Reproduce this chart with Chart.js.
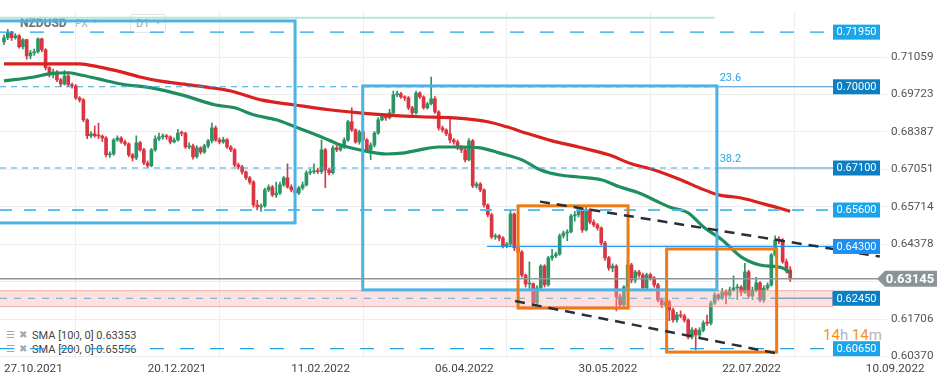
<!DOCTYPE html>
<html><head><meta charset="utf-8">
<script src="https://cdn.jsdelivr.net/npm/chart.js@4/dist/chart.umd.min.js"></script>
<style>
html,body{margin:0;padding:0;background:#fff;}
#wrap{position:relative;width:949px;height:381px;overflow:hidden;font-family:Roboto,"Noto Sans",sans-serif;}
#c{position:absolute;left:0;top:0;z-index:2;}
.t{position:absolute;z-index:1;white-space:nowrap;line-height:1;}
</style></head><body>
<div id="wrap">
  <div class="t" style="left:20px;top:17px;font-size:12px;font-weight:bold;color:#6b7176;">NZDUSD</div>
  <div class="t" style="left:75px;top:18px;font-size:11px;color:#b3b8bc;">FX</div>
  <div class="t" style="left:91px;top:18px;font-size:8px;color:#d0d4d7;">▼</div>
  <div class="t" style="left:130px;top:14px;width:34px;height:17px;border:1px solid #e4e6e8;border-radius:3px;"></div>
  <div class="t" style="left:136px;top:18px;font-size:11px;color:#9aa0a5;">D1</div>
  <div class="t" style="left:154px;top:19px;font-size:8px;color:#c5c9cc;">▼</div>
  <div class="t" style="left:6px;top:330px;font-size:10px;color:#a4a8ab;">☰</div>
  <div class="t" style="left:19px;top:330px;font-size:10px;color:#a4a8ab;">✖</div>
  <div class="t" style="left:32px;top:330px;font-size:11px;color:#444;">SMA [100, 0] 0.63353</div>
  <div class="t" style="left:6px;top:344px;font-size:10px;color:#a4a8ab;">☰</div>
  <div class="t" style="left:19px;top:344px;font-size:10px;color:#a4a8ab;">✖</div>
  <div class="t" style="left:32px;top:344px;font-size:11px;color:#444;">SMA [200, 0] 0.65556</div>
  <div class="t" style="left:823px;top:328px;font-size:15px;"><span style="color:#f5911e">14</span><span style="color:#b0b5b9">h </span><span style="color:#f5911e">14</span><span style="color:#b0b5b9">m</span></div>
  <canvas id="c" width="949" height="381"></canvas>
</div>
<script>
// ---- data ----
const dateLabels = ['27.10.2021','20.12.2021','11.02.2022','06.04.2022','30.05.2022','22.07.2022','10.09.2022'];
const dateTickIdx = [0, 38, 76, 114, 152, 190, 228];
const priceTicks = [0.60370,0.61706,0.63042,0.64378,0.65714,0.67051,0.68387,0.69723,0.71059];

const firstOpen = 0.7160;
const closes = [
0.7175,0.7193,0.7175,0.7182,0.7143,0.7168,0.7110,0.7121,0.7125,0.7171,
0.7132,0.7068,0.7043,0.7053,0.7025,0.7010,0.7039,0.7007,0.7003,0.6960,
0.6953,0.6882,0.6825,0.6832,0.6825,0.6824,0.6817,0.6757,0.6760,0.6810,
0.6817,0.6803,0.6796,0.6757,0.6746,0.6800,0.6775,0.6728,0.6718,0.6775,
0.6814,0.6821,0.6825,0.6821,0.6803,0.6810,0.6835,0.6834,0.6785,0.6789,
0.6750,0.6782,0.6767,0.6789,0.6807,0.6853,0.6810,0.6803,0.6811,0.6785,
0.6775,0.6721,0.6714,0.6696,0.6675,0.6660,0.6578,0.6571,0.6575,0.6632,
0.6642,0.6614,0.6621,0.6650,0.6675,0.6642,0.6632,0.6621,0.6639,0.6650,
0.6693,0.6696,0.6700,0.6697,0.6775,0.6703,0.6693,0.6782,0.6775,0.6785,
0.6810,0.6875,0.6846,0.6803,0.6839,0.6810,0.6775,0.6792,0.6835,0.6882,
0.6896,0.6889,0.6907,0.6971,0.6975,0.6964,0.6960,0.6925,0.6907,0.6978,
0.6964,0.6925,0.6939,0.6957,0.6910,0.6853,0.6846,0.6832,0.6810,0.6803,
0.6782,0.6775,0.6739,0.6807,0.6646,0.6653,0.6632,0.6578,0.6543,0.6464,
0.6468,0.6460,0.6432,0.6439,0.6546,0.6425,0.6410,0.6328,0.6296,0.6297,
0.6228,0.6282,0.6360,0.6293,0.6389,0.6396,0.6403,0.6468,0.6478,0.6482,
0.6539,0.6543,0.6560,0.6489,0.6561,0.6517,0.6507,0.6496,0.6442,0.6389,
0.6353,0.6360,0.6250,0.6221,0.6285,0.6364,0.6310,0.6339,0.6328,0.6282,
0.6329,0.6318,0.6293,0.6239,0.6221,0.6232,0.6203,0.6168,0.6186,0.6182,
0.6167,0.6107,0.6132,0.6114,0.6131,0.6157,0.6156,0.6228,0.6257,0.6246,
0.6268,0.6256,0.6275,0.6282,0.6285,0.6267,0.6339,0.6253,0.6274,0.6300,
0.6239,0.6281,0.6292,0.6400,0.6453,0.6450,0.6375,0.6346,0.63145];
const highs = [
0.7185,0.7205,0.7198,0.7190,0.7186,0.7172,0.7170,0.7130,0.7135,0.7175,
0.7174,0.7136,0.7072,0.7063,0.7058,0.7030,0.7058,0.7044,0.7013,0.7008,
0.6965,0.6958,0.6886,0.6840,0.6860,0.6870,0.6828,0.6822,0.6768,0.6815,
0.6825,0.6822,0.6810,0.6800,0.6762,0.6825,0.6805,0.6780,0.6735,0.6780,
0.6825,0.6835,0.6832,0.6830,0.6825,0.6818,0.6848,0.6842,0.6838,0.6800,
0.6795,0.6790,0.6786,0.6795,0.6812,0.6870,0.6860,0.6818,0.6820,0.6815,
0.6790,0.6780,0.6728,0.6720,0.6700,0.6680,0.6665,0.6595,0.6582,0.6638,
0.6650,0.6648,0.6660,0.6660,0.6680,0.6725,0.6650,0.6640,0.6645,0.6660,
0.6700,0.6705,0.6725,0.6710,0.6810,0.6780,0.6710,0.6790,0.6790,0.6795,
0.6818,0.6880,0.6925,0.6850,0.6845,0.6875,0.6815,0.6800,0.6840,0.6890,
0.6905,0.6900,0.6920,0.6985,0.6985,0.6980,0.6968,0.6965,0.6930,0.6985,
0.6982,0.6968,0.6945,0.7035,0.6965,0.6915,0.6860,0.6850,0.6890,0.6815,
0.6810,0.6790,0.6780,0.6815,0.6812,0.6660,0.6658,0.6636,0.6582,0.6548,
0.6475,0.6472,0.6465,0.6445,0.6560,0.6550,0.6430,0.6415,0.6332,0.6375,
0.6300,0.6290,0.6365,0.6365,0.6395,0.6420,0.6410,0.6475,0.6485,0.6490,
0.6545,0.6555,0.6575,0.6565,0.6570,0.6565,0.6525,0.6512,0.6500,0.6448,
0.6395,0.6368,0.6365,0.6260,0.6290,0.6385,0.6370,0.6345,0.6345,0.6335,
0.6335,0.6335,0.6322,0.6298,0.6245,0.6240,0.6238,0.6210,0.6195,0.6200,
0.6188,0.6172,0.6140,0.6138,0.6140,0.6165,0.6185,0.6235,0.6265,0.6262,
0.6280,0.6275,0.6285,0.6325,0.6295,0.6290,0.6370,0.6345,0.6285,0.6320,
0.6305,0.6290,0.6300,0.6405,0.6468,0.6465,0.6458,0.6385,0.6358];
const lows = [
0.7150,0.7168,0.7165,0.7170,0.7138,0.7135,0.7098,0.7100,0.7112,0.7120,
0.7125,0.7060,0.7035,0.7032,0.7018,0.7000,0.7006,0.7000,0.6995,0.6955,
0.6945,0.6875,0.6815,0.6818,0.6820,0.6815,0.6805,0.6750,0.6748,0.6755,
0.6805,0.6798,0.6790,0.6750,0.6735,0.6740,0.6770,0.6722,0.6712,0.6714,
0.6770,0.6808,0.6812,0.6812,0.6796,0.6800,0.6806,0.6825,0.6780,0.6778,
0.6742,0.6745,0.6760,0.6762,0.6782,0.6800,0.6805,0.6796,0.6798,0.6780,
0.6768,0.6715,0.6706,0.6688,0.6668,0.6652,0.6570,0.6560,0.6555,0.6570,
0.6625,0.6608,0.6605,0.6615,0.6645,0.6638,0.6625,0.6595,0.6615,0.6632,
0.6645,0.6686,0.6690,0.6690,0.6690,0.6640,0.6685,0.6688,0.6768,0.6770,
0.6780,0.6805,0.6840,0.6798,0.6795,0.6805,0.6765,0.6740,0.6785,0.6830,
0.6878,0.6880,0.6885,0.6900,0.6965,0.6958,0.6950,0.6918,0.6900,0.6902,
0.6958,0.6920,0.6920,0.6935,0.6905,0.6845,0.6838,0.6825,0.6800,0.6795,
0.6775,0.6765,0.6732,0.6735,0.6640,0.6638,0.6625,0.6570,0.6535,0.6458,
0.6455,0.6450,0.6425,0.6425,0.6430,0.6415,0.6400,0.6320,0.6285,0.6280,
0.6215,0.6220,0.6275,0.6285,0.6288,0.6380,0.6390,0.6398,0.6460,0.6450,
0.6478,0.6520,0.6535,0.6480,0.6485,0.6510,0.6500,0.6488,0.6435,0.6380,
0.6345,0.6340,0.6200,0.6210,0.6215,0.6280,0.6300,0.6300,0.6320,0.6275,
0.6278,0.6310,0.6285,0.6232,0.6212,0.6215,0.6165,0.6160,0.6160,0.6175,
0.6160,0.6100,0.6100,0.6061,0.6105,0.6125,0.6148,0.6150,0.6222,0.6238,
0.6240,0.6225,0.6250,0.6270,0.6240,0.6255,0.6262,0.6245,0.6240,0.6268,
0.6232,0.6230,0.6275,0.6288,0.6395,0.6440,0.6370,0.6335,0.6305];

const sma100Idx = [0,8,12,17,20,25,31,39,47,56,61,66,72,77,84,89,94,101,106,110,115,121,126,131,137,142,147,152,158,163,168,172,176,181,185,190,195,200,206,208];
const sma100Val = [0.7021,0.7035,0.7046,0.7050,0.7043,0.7028,0.7010,0.6996,0.6971,0.6935,0.6925,0.6900,0.6882,0.6857,0.6821,0.6792,0.6775,0.6760,0.6764,0.6775,0.6785,0.6785,0.6782,0.6764,0.6739,0.6703,0.6685,0.6678,0.6668,0.6642,0.6621,0.6596,0.6571,0.6550,0.6500,0.6453,0.6393,0.6364,0.6353,0.63353];
const sma200Idx = [0,20,25,31,36,41,49,60,68,77,86,94,101,110,119,128,133,138,145,152,160,166,172,179,184,189,195,201,208];
const sma200Val = [0.7082,0.7082,0.7071,0.7053,0.7035,0.7021,0.7007,0.6985,0.6953,0.6935,0.6918,0.6907,0.6900,0.6893,0.6889,0.6875,0.6857,0.6835,0.6807,0.6785,0.6757,0.6725,0.6703,0.6668,0.6639,0.6614,0.6603,0.6582,0.65556];

const levelPrices = [0.71950, 0.70000, 0.67100, 0.65600, 0.64300, 0.62450, 0.60650];
const currentPrice = 0.63145;
const zoneRange = [0.6272, 0.6215];
const fibTop = 0.7246;
const fibTexts = ['23.6', '38.2'];
const fibPrices = [0.70000, 0.67100];
// drawn rectangles: [startIdx, endIdx, topPrice, bottomPrice]
const blueBoxes = [[-3, 77, 0.7235, 0.6514], [94.9, 188.6, 0.7003, 0.6275]];
const orangeBoxes = [[136.0, 165.1, 0.6575, 0.6210], [175.3, 204.4, 0.6421, 0.6053]];
// trend lines: [idx1, price1, idx2, price2]
const trendLines = [[141.8, 0.6590, 231.7, 0.6394], [135.2, 0.6235, 205.3, 0.6046]];

// ---- build ----
const opens = [firstOpen].concat(closes.slice(0, -1));
const GREEN = '#2b9566', RED = '#da3541';
const bodyData = closes.map((c, i) => ({x: i, y: [opens[i], c]}));
const wickData = closes.map((c, i) => ({x: i, y: [lows[i], highs[i]]}));
const cols = closes.map((c, i) => c >= opens[i] ? GREEN : RED);
const sma100 = sma100Idx.map((x, k) => ({x, y: sma100Val[k]}));
const sma200 = sma200Idx.map((x, k) => ({x, y: sma200Val[k]}));

function seg(ctx, x1, y1, x2, y2, color, lw, dash) {
  ctx.save(); ctx.strokeStyle = color; ctx.lineWidth = lw; ctx.setLineDash(dash || []);
  ctx.beginPath(); ctx.moveTo(x1, y1); ctx.lineTo(x2, y2); ctx.stroke(); ctx.restore();
}

const marks = {
  id: 'marks',
  afterDatasetsDraw(chart) {
    const {ctx, chartArea: ca, scales: {x, y}} = chart;
    const X = v => x.getPixelForValue(v), Y = v => y.getPixelForValue(v);
    const labL = ca.right - 54, labW = 47;
    ctx.save();
    ctx.beginPath(); ctx.rect(ca.left, ca.top, ca.right - ca.left, ca.bottom - ca.top); ctx.clip();
    // fib top line
    seg(ctx, ca.left, Y(fibTop), X(188), Y(fibTop), '#b9e5d8', 2);
    // zone
    const zt = Y(zoneRange[0]), zb = Y(zoneRange[1]);
    ctx.fillStyle = 'rgba(247,180,180,0.40)';
    ctx.fillRect(ca.left, zt, labL - ca.left, zb - zt);
    seg(ctx, ca.left, zt, labL, zt, 'rgba(236,140,140,0.7)', 1);
    seg(ctx, ca.left, zb, labL, zb, 'rgba(236,140,140,0.7)', 1);
    // levels
    const L = levelPrices.map(Y);
    seg(ctx, ca.left, L[0], labL, L[0], '#22a4e6', 1.3, [14, 16]);
    seg(ctx, ca.left, L[1], X(188), L[1], '#3da5df', 1.1, [6, 5]);
    seg(ctx, X(188), L[1], labL, L[1], '#3b8fcf', 1, []);
    seg(ctx, ca.left, L[2], X(188), L[2], '#3da5df', 1.1, [6, 5]);
    seg(ctx, X(188), L[2], labL, L[2], '#3b8fcf', 1, []);
    seg(ctx, ca.left, L[3], labL, L[3], '#4bbcf0', 1.8, [12, 12]);
    seg(ctx, X(127.8), L[4], labL, L[4], '#2196f3', 1.3, []);
    seg(ctx, ca.left, L[5], X(203), L[5], '#73a2cc', 1, [7, 7]);
    seg(ctx, X(203), L[5], labL, L[5], '#86a2be', 1.3, []);
    seg(ctx, ca.left, L[6], labL, L[6], '#22a4e6', 1.3, [14, 16]);
    // boxes
    ctx.lineWidth = 3;
    ctx.strokeStyle = '#4db2e4';
    blueBoxes.forEach(b => ctx.strokeRect(X(b[0]), Y(b[2]), X(b[1]) - X(b[0]), Y(b[3]) - Y(b[2])));
    ctx.strokeStyle = '#f07a12';
    orangeBoxes.forEach(b => ctx.strokeRect(X(b[0]), Y(b[2]), X(b[1]) - X(b[0]), Y(b[3]) - Y(b[2])));
    trendLines.forEach(t => seg(ctx, X(t[0]), Y(t[1]), X(t[2]), Y(t[3]), '#2a2f34', 2.5, [10, 7]));
    // current price line
    const cp = Y(currentPrice);
    seg(ctx, ca.left, cp, ca.right, cp, '#8d9699', 1.5);
    ctx.restore();
    // zone end bar
    seg(ctx, labL, zt + 1, labL, zb - 1, '#7f9cb8', 2);
    // level labels
    const bg = ['#1ba5e9', '#0b7fc3', '#0b7fc3', '#1aa5ea', '#1d8ff0', '#0b7fc3', '#1aa5ea'];
    ctx.save();
    ctx.font = '11px Roboto, sans-serif';
    ctx.textAlign = 'center'; ctx.textBaseline = 'middle';
    levelPrices.forEach((p, k) => {
      ctx.fillStyle = bg[k];
      ctx.fillRect(labL, L[k] - 7.5, labW, 15);
      ctx.fillStyle = '#fff';
      ctx.fillText(p.toFixed(5), labL + labW / 2, L[k] + 0.5);
    });
    // current price tag
    const tx = ca.right - 10;
    ctx.fillStyle = '#8a9497';
    ctx.beginPath();
    ctx.moveTo(tx, cp); ctx.lineTo(tx + 8, cp - 8); ctx.lineTo(tx + 60, cp - 8);
    ctx.lineTo(tx + 60, cp + 8); ctx.lineTo(tx + 8, cp + 8); ctx.closePath(); ctx.fill();
    ctx.fillStyle = '#fff'; ctx.font = 'bold 13px Roboto, sans-serif';
    ctx.fillText(currentPrice.toFixed(5), tx + 33, cp + 0.5);
    // fib texts
    ctx.fillStyle = '#2ba3e3'; ctx.font = '11px Roboto, sans-serif'; ctx.textAlign = 'left';
    fibTexts.forEach((s, k) => ctx.fillText(s, X(188) + 5, Y(fibPrices[k]) - 9));
    ctx.restore();
  }
};

new Chart(document.getElementById('c'), {
  type: 'bar',
  data: {
    datasets: [
      {type: 'line', data: sma200, borderColor: '#d9221f', borderWidth: 3.2, pointRadius: 0, cubicInterpolationMode: 'monotone', order: 1},
      {type: 'line', data: sma100, borderColor: '#1f8e5e', borderWidth: 3.2, pointRadius: 0, cubicInterpolationMode: 'monotone', order: 1},
      {data: wickData, backgroundColor: cols, barThickness: 1, grouped: false, order: 3},
      {data: bodyData, backgroundColor: cols, barThickness: 3, minBarLength: 1, grouped: false, order: 2}
    ]
  },
  options: {
    responsive: false, animation: false,
    layout: {padding: 0},
    plugins: {legend: {display: false}, tooltip: {enabled: false}},
    scales: {
      x: {
        type: 'linear', min: -1.06, max: 233.6, offset: false,
        afterBuildTicks: s => { s.ticks = dateTickIdx.map(v => ({value: v})); },
        afterFit: s => { s.height = 23; },
        ticks: {align: 'start', maxRotation: 0, autoSkip: false, padding: 4, color: '#444',
          font: {family: 'Roboto', size: 11.7},
          callback: v => dateLabels[dateTickIdx.indexOf(v)]},
        grid: {color: '#eeeeee', drawTicks: false},
        border: {display: false}
      },
      y: {
        type: 'linear', position: 'right', min: 0.60318, max: 0.72704,
        afterBuildTicks: s => { s.ticks = priceTicks.map(v => ({value: v})); },
        afterFit: s => { s.width = 62; },
        ticks: {padding: 4, color: '#555', font: {family: 'Roboto', size: 11.7},
          callback: v => Number(v).toFixed(5)},
        grid: {color: '#eeeeee', drawTicks: false},
        border: {display: false}
      }
    }
  },
  plugins: [marks]
});
</script>
</body></html>
